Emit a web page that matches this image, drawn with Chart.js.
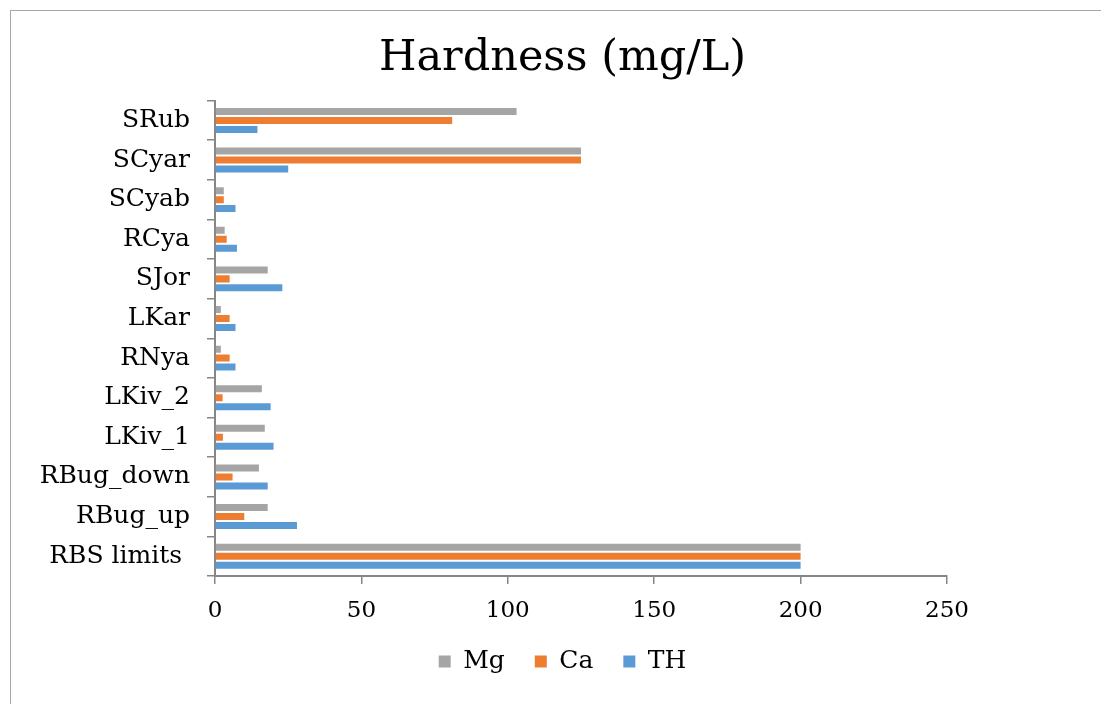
<!DOCTYPE html>
<html>
<head>
<meta charset="utf-8">
<script src="https://cdn.jsdelivr.net/npm/chart.js@4.4.1/dist/chart.umd.min.js"></script>
<style>
    body { margin: 0; background: #fff; }
    #marco {
        position: absolute; left: 10px; top: 10px; width: 1200px; height: 800px;
        border-top: 1px solid #a6a6a6; border-left: 1px solid #a6a6a6;
    }
    #contenedor { position: absolute; left: 0; top: 0; width: 1101px; height: 704px; }
</style>
</head>
<body>
<div id="marco"></div>
<div id="contenedor"><canvas id="grafico"></canvas></div>
<script>
// Datos (de arriba hacia abajo)
const sitios = ['SRub', 'SCyar', 'SCyab', 'RCya', 'SJor', 'LKar', 'RNya', 'LKiv_2', 'LKiv_1', 'RBug_down', 'RBug_up', 'RBS limits '];
const valoresMg = [103, 125, 3, 3.3, 18, 2, 2, 16, 17, 15, 18, 200];
const valoresCa = [81, 125, 3, 4, 5, 5, 5, 2.6, 2.7, 6, 10, 200];
const valoresTH = [14.5, 25, 7, 7.5, 23, 7, 7, 19, 20, 18, 28, 200];
const ticksX = [0, 50, 100, 150, 200, 250];

const fuente = 'DejaVu Serif';
const gris = '#868686';

const ctx = document.getElementById('grafico').getContext('2d');

new Chart(ctx, {
    type: 'bar',
    data: {
        labels: sitios,
        datasets: [
            { label: 'Mg', data: valoresMg, backgroundColor: '#a5a5a5' },
            { label: 'Ca', data: valoresCa, backgroundColor: '#ed7d31' },
            { label: 'TH', data: valoresTH, backgroundColor: '#5b9bd5' },
        ],
    },
    options: {
        indexAxis: 'y',
        responsive: true,
        maintainAspectRatio: false,
        animation: false,
        categoryPercentage: 0.68,
        barPercentage: 0.78,
        layout: { padding: { left: 24, right: 0, top: 0, bottom: 20 } },
        plugins: {
            title: {
                display: true,
                text: 'Hardness (mg/L)',
                color: '#000',
                font: { family: fuente, size: 43, weight: 'normal' },
                padding: { top: 33, bottom: 16 },
            },
            legend: {
                position: 'bottom',
                labels: {
                    color: '#000',
                    font: { family: fuente, size: 25 },
                    boxWidth: 12,
                    boxHeight: 12,
                    padding: 30,
                },
            },
            tooltip: { enabled: false },
        },
        scales: {
            x: {
                min: 0,
                max: 250,
                afterBuildTicks: (eje) => { eje.ticks = ticksX.map(v => ({ value: v })); },
                afterFit: (eje) => { eje.height = 43; },
                border: { color: gris, width: 2 },
                grid: { drawOnChartArea: false, color: gris, tickLength: 8, lineWidth: 1.5 },
                ticks: { color: '#000', padding: 13, font: { family: fuente, size: 23 } },
            },
            y: {
                afterFit: (eje) => { eje.width = 191; },
                border: { color: gris, width: 2 },
                grid: { drawOnChartArea: false, color: gris, tickLength: 8, lineWidth: 1.5, offset: true },
                ticks: { color: '#000', padding: 17, font: { family: fuente, size: 25 } },
            },
            // espacio vacío a la derecha del área de trazado
            margenDerecho: {
                type: 'category',
                position: 'right',
                afterFit: (eje) => { eje.width = 154; },
                border: { display: false },
                grid: { display: false },
                ticks: { display: false },
            },
        },
    },
});
</script>
</body>
</html>
